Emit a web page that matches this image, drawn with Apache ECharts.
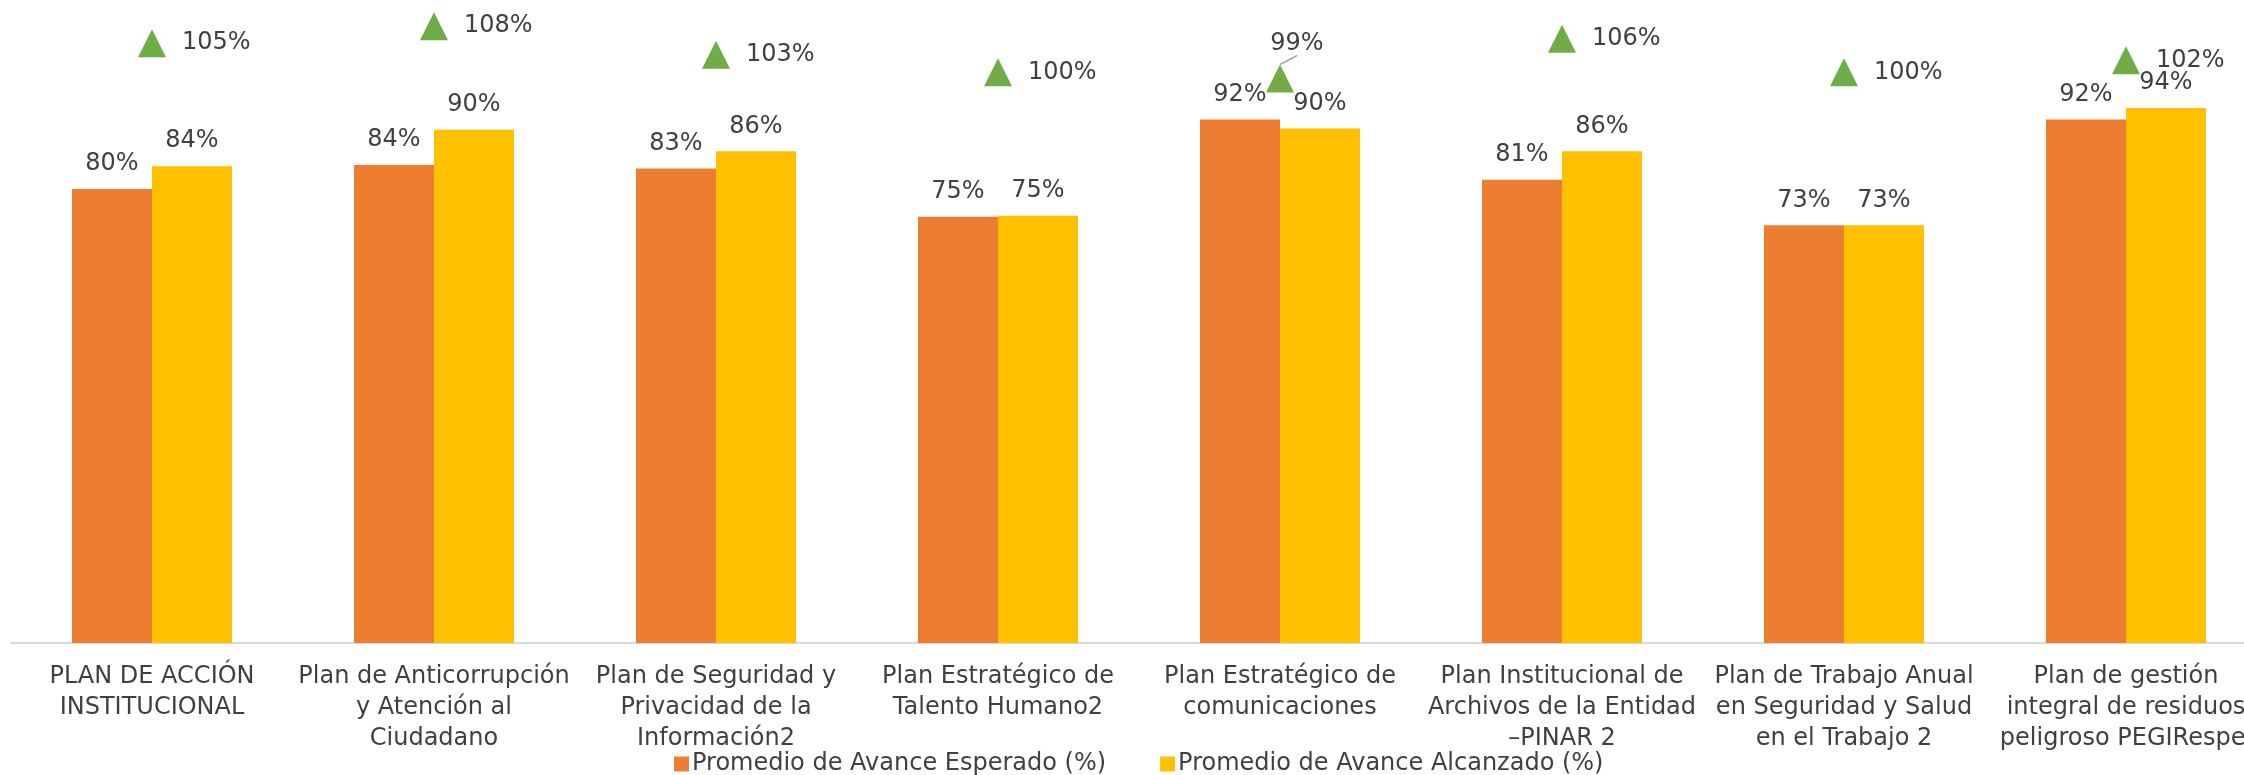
<!DOCTYPE html>
<html style="height: 100%">
<head>
	<meta charset="utf-8">
</head>
<body style="height: 100%; margin: 0; background: #fff">
<div id="container" style="width: 2244px; height: 775px"></div>
<script type="text/javascript" src="https://cdn.jsdelivr.net/npm/echarts@6/dist/echarts.min.js"></script>
<script type="text/javascript">
    var categories = [
        'PLAN DE ACCIÓN\nINSTITUCIONAL',
        'Plan de Anticorrupción\ny Atención al\nCiudadano',
        'Plan de Seguridad y\nPrivacidad de la\nInformación2',
        'Plan Estratégico de\nTalento Humano2',
        'Plan Estratégico de\ncomunicaciones',
        'Plan Institucional de\nArchivos de la Entidad\n–PINAR 2',
        'Plan de Trabajo Anual\nen Seguridad y Salud\nen el Trabajo 2',
        'Plan de gestión\nintegral de residuos\npeligroso PEGIRespel'
    ];
    var esperado = [79.8, 84.0, 83.4, 74.9, 92.0, 81.4, 73.4, 92.0];
    var alcanzado = [83.8, 90.2, 86.4, 75.1, 90.4, 86.4, 73.4, 94.0];
    var cumplimiento = [105.4, 108.4, 103.4, 100.3, 99.2, 106.2, 100.3, 102.4];

    var textColor = '#404040';
    var fontFamily = '"DejaVu Sans", Verdana, sans-serif';

    var dom = document.getElementById("container");
    var myChart = echarts.init(dom);

    function pct(p) {
        return Math.round(p.value) + '%';
    }

    // the 99% label sits above its marker with a leader line
    var cumplData = cumplimiento.map(function (v, i) {
        if (i === 4) {
            return {
                value: v,
                label: {position: 'top', distance: 9},
                labelLine: {show: true, lineStyle: {color: '#A6A6A6', width: 1.5}}
            };
        }
        return v;
    });

    var option = {
        backgroundColor: '#fff',
        animation: false,
        textStyle: {fontFamily: fontFamily},
        grid: {left: 11, right: -23, top: 0, bottom: 132, containLabel: false, outerBoundsMode: 'none'},
        legend: {
            data: ['Promedio de Avance Esperado (%)', 'Promedio de Avance Alcanzado (%)'],
            left: 669,
            top: 747,
            itemWidth: 15,
            itemHeight: 15,
            itemGap: 54,
            icon: 'rect',
            textStyle: {color: textColor, fontSize: 24, fontFamily: fontFamily, padding: [0, 0, 0, -2]}
        },
        xAxis: {
            type: 'category',
            data: categories,
            axisTick: {show: false},
            axisLine: {lineStyle: {color: '#D9D9D9', width: 2}},
            axisLabel: {
                color: textColor,
                fontSize: 24,
                lineHeight: 31,
                margin: 18,
                interval: 0,
                fontFamily: fontFamily
            }
        },
        yAxis: {
            type: 'value',
            show: false,
            min: 0,
            max: 113,
            splitLine: {show: false}
        },
        series: [
            {
                name: 'Promedio de Avance Esperado (%)',
                type: 'bar',
                data: esperado,
                barWidth: 80,
                barGap: '0%',
                itemStyle: {color: '#ED7D31'},
                label: {show: true, position: 'top', distance: 13, color: textColor, fontSize: 24, formatter: pct}
            },
            {
                name: 'Promedio de Avance Alcanzado (%)',
                type: 'bar',
                data: alcanzado,
                barWidth: 80,
                barGap: '0%',
                itemStyle: {color: '#FFC000'},
                label: {show: true, position: 'top', distance: 13, color: textColor, fontSize: 24, formatter: pct}
            },
            {
                name: 'Cumplimiento',
                type: 'line',
                data: cumplData,
                z: 5,
                symbol: 'triangle',
                symbolSize: 28,
                lineStyle: {width: 0, opacity: 0},
                itemStyle: {color: '#70AD47'},
                label: {show: true, position: 'right', distance: 16, color: textColor, fontSize: 24, formatter: pct},
                labelLayout: function (p) {
                    if (p.dataIndex === 4) {
                        return {dx: 17};
                    }
                }
            }
        ]
    };

    myChart.setOption(option);
</script>
</body>
</html>
